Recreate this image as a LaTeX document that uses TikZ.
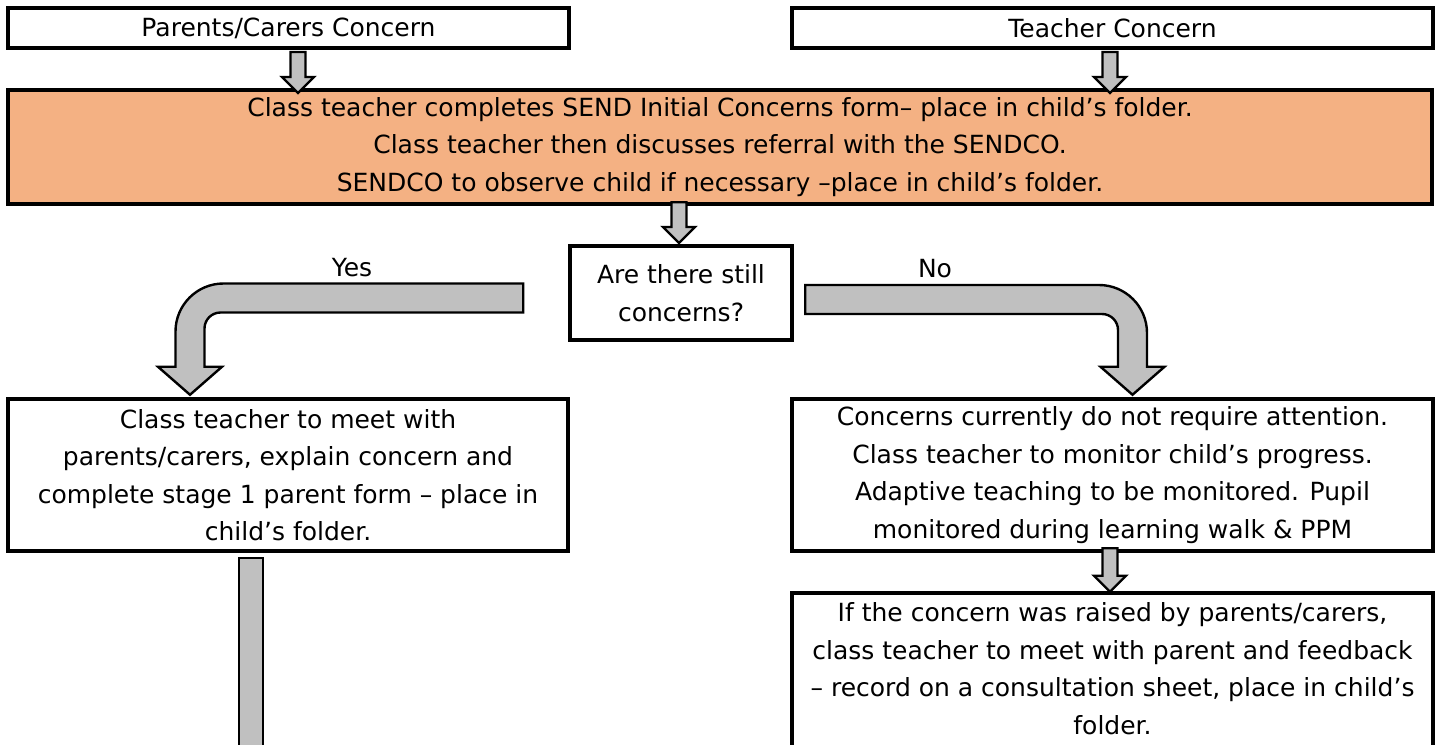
\documentclass[tikz,border=0pt]{standalone}
\usepackage{fontspec}
\setmainfont{DejaVu Sans}
\usetikzlibrary{calc}
\definecolor{orangefill}{RGB}{244,177,131}
\definecolor{arrowgray}{RGB}{192,192,192}
\begin{document}
\begin{tikzpicture}[x=1pt,y=-1pt,
  txt/.style={font=\fontsize{25}{37.5}\selectfont, align=center, inner sep=0pt},
  box/.style={txt, draw=black, line width=4pt, fill=white},
  blk/.style={draw=black, line width=2.4pt, fill=arrowgray, line join=miter},
  downblk/.style={to path={let \p1=(\tikztostart), \p2=(\tikztotarget) in
    (\x1-7.5pt,\y1) -- (\x1-7.5pt,\y2+16pt) -- (\x1-16pt,\y2+16pt) -- (\x1,\y2)
    -- (\x1+16pt,\y2+16pt) -- (\x1+7.5pt,\y2+16pt) -- (\x1+7.5pt,\y1) -- cycle}},
  yesblk/.style={to path={let \p1=(\tikztostart), \p2=(\tikztotarget) in
    (\x1,\y1+14.5pt) -- (\x2-14.5pt+48pt,\y1+14.5pt)
    .. controls (\x2-14.5pt+21.5pt,\y1+14.5pt) and (\x2-14.5pt,\y1+14.5pt-21.5pt) .. (\x2-14.5pt,\y1+14.5pt-48pt)
    -- (\x2-14.5pt,\y2+28pt) -- (\x2-32pt,\y2+28pt) -- (\x2,\y2) -- (\x2+32pt,\y2+28pt) -- (\x2+14.5pt,\y2+28pt)
    -- (\x2+14.5pt,\y1-14.5pt-16pt)
    .. controls (\x2+14.5pt,\y1-14.5pt-7.16pt) and (\x2+14.5pt+7.16pt,\y1-14.5pt) .. (\x2+14.5pt+16pt,\y1-14.5pt)
    -- (\x1,\y1-14.5pt) -- cycle}},
  noblk/.style={to path={let \p1=(\tikztostart), \p2=(\tikztotarget) in
    (\x1,\y1+14.5pt) -- (\x2+14.5pt-48pt,\y1+14.5pt)
    .. controls (\x2+14.5pt-21.5pt,\y1+14.5pt) and (\x2+14.5pt,\y1+14.5pt-21.5pt) .. (\x2+14.5pt,\y1+14.5pt-48pt)
    -- (\x2+14.5pt,\y2+28pt) -- (\x2+32pt,\y2+28pt) -- (\x2,\y2) -- (\x2-32pt,\y2+28pt) -- (\x2-14.5pt,\y2+28pt)
    -- (\x2-14.5pt,\y1-14.5pt-16pt)
    .. controls (\x2-14.5pt,\y1-14.5pt-7.16pt) and (\x2-14.5pt-7.16pt,\y1-14.5pt) .. (\x2-14.5pt-16pt,\y1-14.5pt)
    -- (\x1,\y1-14.5pt) -- cycle}}
]
\clip (0,0) rectangle (1439,744);
\fill[white] (0,0) rectangle (1439,744);

\node[box, minimum width=561pt, minimum height=40pt] (parents) at (288.5,28) {Parents/Carers Concern};
\node[box, minimum width=641pt, minimum height=40pt] (teacher) at (1112.5,28) {Teacher Concern};
\node[box, fill=orangefill, minimum width=1424pt, minimum height=114pt] (orange) at (720,147)
  {Class teacher completes SEND Initial Concerns form– place in child’s folder.\\
   Class teacher then discusses referral with the SENDCO.\\
   SENDCO to observe child if necessary –place in child’s folder.};
\node[box, minimum width=222pt, minimum height=94pt] (dec) at (681,293) {Are there still\\concerns?};
\node[box, minimum width=560pt, minimum height=152pt] (yesbox) at (288,475)
  {Class teacher to meet with\\
   parents/carers, explain concern and\\
   complete stage 1 parent form – place in\\
   child’s folder.};
\node[box, minimum width=641pt, minimum height=152pt] (nobox) at (1112.5,475)
  {Concerns currently do not require attention.\\
   Class teacher to monitor child’s progress.\\
   Adaptive teaching to be monitored. Pupil\\
   monitored during learning walk \& PPM};
\node[box, minimum width=641pt, minimum height=180pt, anchor=north] (feedback) at (1112.5,591) {};
\node[txt, anchor=north] (feedbacktext) at ([yshift=-11.5pt]feedback.north)
  {If the concern was raised by parents/carers,\\
   class teacher to meet with parent and feedback\\
   – record on a consultation sheet, place in child’s\\
   folder.};

\node[txt] (yeslbl) at (352,268) {Yes};
\node[txt] (nolbl) at (935,269) {No};

\draw[blk] ([xshift=9.5pt,yshift=-2pt]parents.south) to[downblk] ([xshift=9.5pt,yshift=-5pt]orange.north);
\draw[blk] ([xshift=-2.5pt,yshift=-2pt]teacher.south) to[downblk] ([xshift=-2.5pt,yshift=-5pt]orange.north);
\draw[blk] ([xshift=-41pt,yshift=3.75pt]orange.south) to[downblk] ([xshift=-2pt,yshift=1pt]dec.north);
\draw[blk] ([xshift=-2.5pt,yshift=4.75pt]nobox.south) to[downblk] ([xshift=-2.5pt,yshift=-0.75pt]feedback.north);
\draw[blk] ([xshift=-44.75pt,yshift=-5pt]dec.west) to[yesblk] ([xshift=-98pt,yshift=2.25pt]yesbox.north);
\draw[blk] ([xshift=11.25pt,yshift=-6.5pt]dec.east) to[noblk] ([xshift=20pt,yshift=2.25pt]nobox.north);
\coordinate (offpage) at (251,780);
\draw[blk] ([xshift=-49pt,yshift=-5pt]yesbox.south) rectangle ([xshift=12pt]offpage);
\end{tikzpicture}
\end{document}
